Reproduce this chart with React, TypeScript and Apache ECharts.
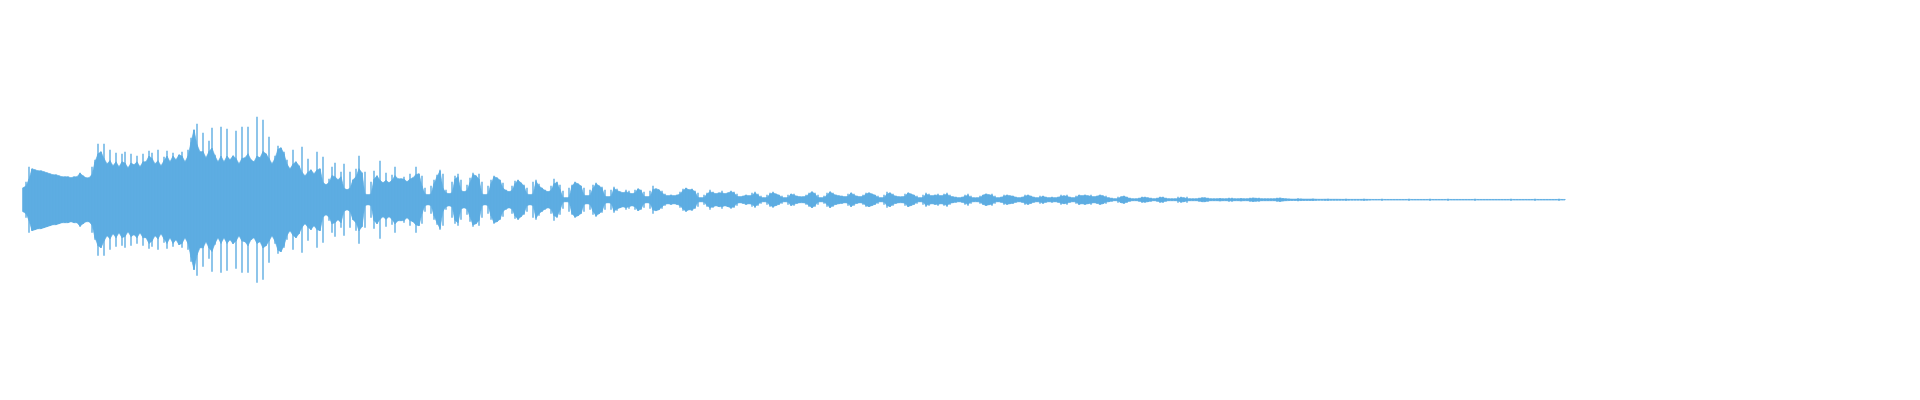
import React, { useEffect, useRef } from "react";
import * as echarts from "echarts";

// Waveform peak amplitudes, one value per sample step.
const attack = [12, 18, 33, 31, 30, 29, 29, 28, 27, 26, 25, 25, 24, 23, 23, 23, 22, 23, 23, 27, 24, 22, 22, 33, 40, 56];
const body = [48, 56, 36, 50, 34, 47, 33, 46, 48, 32, 46, 35, 44, 33, 46, 38, 49, 47, 36, 50, 34, 43, 49, 38, 47, 40, 45, 48, 38, 50];
const peak = [62, 70, 76, 48, 67, 42, 59, 72, 45, 38, 73, 38, 71, 40, 44, 69, 36, 73, 42, 73, 40, 38, 83, 42, 80, 46, 63, 36, 44, 54, 52, 48, 40, 31, 50, 38, 34, 53];
const decay = [24, 41, 30, 26, 48, 31, 43, 15, 21, 33, 37, 20, 28, 36, 10, 28, 20, 31, 44, 27, 28, 5, 18, 29, 24, 39, 17, 27, 17, 25, 33, 21, 21, 23, 18];
const lobes = [
  26, 22, 33, 26, 24, 12, 5, 14, 20, 25,
  30, 26, 10, 6, 18, 24, 26, 20, 8, 15,
  22, 27, 24, 26, 18, 5, 14, 20, 24, 22,
  20, 17, 10, 8, 14, 19, 20, 17, 15, 12,
  5, 18, 20, 16, 12, 10, 8, 14, 21, 18,
  15, 9, 2, 12, 15, 18, 16, 14, 12, 4,
  10, 15, 17, 14, 13, 10, 3, 10, 13, 11,
  8, 7, 10, 9, 6, 10, 11, 10, 8, 3,
  9, 14, 11, 10, 9, 6, 4, 5, 4, 5,
  8, 11, 12, 10, 11, 9, 7, 2, 5, 7,
  10, 8, 6, 7, 9, 6, 7, 9, 8, 6,
  3, 4, 5, 4,
];
const tail1 = [
  7, 8, 6, 4, 2, 5, 7, 8, 6, 5,
  4, 2, 5, 6, 6, 4, 3, 3, 5, 7,
  8, 7, 5, 2, 4, 7, 8, 7, 5, 4,
  4, 3, 6, 7, 6, 4, 3, 5, 7, 7,
  6, 5, 4, 2, 5, 8, 7, 6, 4, 3,
  3, 6, 7, 6, 5, 4, 2, 5, 7, 6,
  4, 5, 6, 4, 6, 7, 5, 3, 3, 2,
  3, 5, 6, 4, 2, 2, 4, 5, 6, 5,
  6, 4, 2, 3, 5, 5, 4, 4, 3, 2,
  3, 5, 5, 4, 3, 2, 4, 4, 3, 2,
];
const tail2 = [
  3, 2, 3, 5, 4, 5, 3, 2, 4, 5,
  4, 5, 4, 5, 3, 4, 5, 4, 4, 2,
  2, 1, 3, 3, 4, 3, 2, 1, 1, 2,
  3, 3, 2, 2, 1, 2, 3, 3, 2, 1,
  1, 1, 3, 3, 2, 3, 1, 1, 1, 2,
  2, 2, 2, 1, 1, 1, 1.5, 1, 1, 2,
  2, 1, 1, 1.5, 1, 1, 2, 2, 1.5, 2,
  1, 1, 1, 1, 1, 2, 2, 1.5, 1, 1,
  0.7, 0.7, 1.5, 1, 0.7,
];
const tail3 = [
  0.7, 0.7, 1, 0.7, 0.5, 0.5, 0.7, 1, 0.5, 0.5,
  0.5, 0.5, 0.4, 1, 0.4, 0.4, 0.4, 0.4, 0.4, 1,
  0.4, 0.4, 0.3, 0.3, 0.3, 1, 0.3, 0.3, 0.3, 0.3,
  0.3, 0.3, 0.3, 0.3, 1, 0.3, 0.3, 0.3, 0.3, 0.3,
  0.3, 1, 0.3, 0.3, 0.3, 0.3, 0.3, 1, 0.3, 0.3,
  0.3, 0.3, 0.3, 0.3, 0.3, 0.3, 1, 0.3, 0.3, 0.3,
  0.3, 0.3, 0.3, 0.3, 0.3, 0.3, 0.3, 0.3, 1, 0.3,
  0.3, 0.3, 0.3, 0.3, 0.3, 0.3, 1, 0.3, 0.3, 0.3,
  0.3, 0.3, 0.3, 0.3, 1, 0.3, 0.3,
];

const amplitudes = [...attack, ...body, ...peak, ...decay, ...lobes, ...tail1, ...tail2, ...tail3];
const COLOR = "#5DADE2";

export default function App() {
  const ref = useRef<HTMLDivElement>(null);
  useEffect(() => {
    if (!ref.current) return;
    const chart = echarts.init(ref.current, null, { renderer: "svg" });
    const n = amplitudes.length;
    // body level: a little above the lowest of each sample and its neighbours; stems carry the peaks
    const core = amplitudes.map((a, i) => {
      const m = Math.min(a, i > 0 ? amplitudes[i - 1] : a, i + 1 < n ? amplitudes[i + 1] : a);
      return Math.min(a, m * 1.15);
    });
    const items = amplitudes.map((a, i) => [i, a, core[i], i + 1 < n ? core[i + 1] : core[i]]);
    chart.setOption({
      animation: false,
      backgroundColor: "#ffffff",
      grid: { left: 23, top: -0.5, width: 1890, height: 400 },
      xAxis: { type: "value", min: 0, max: 630, show: false },
      yAxis: { type: "value", min: -200, max: 200, show: false },
      series: [
        {
          type: "custom",
          silent: true,
          data: items,
          encode: { x: 0, y: 1 },
          renderItem: (params: any, api: any) => {
            const i = api.value(0);
            const a = api.value(1);
            const c0 = api.value(2);
            const c1 = api.value(3);
            const top = api.coord([i, a]);
            const bottom = api.coord([i, -a]);
            const children: any[] = [];
            if (i < n - 1) {
              children.push({
                type: "polygon",
                shape: {
                  points: [
                    api.coord([i, c0]),
                    api.coord([i + 1, c1]),
                    api.coord([i + 1, -c1]),
                    api.coord([i, -c0]),
                  ],
                },
                style: { fill: COLOR, stroke: COLOR, lineWidth: 0.6 },
              });
            }
            children.push({
              type: "line",
              shape: { x1: top[0], y1: top[1], x2: bottom[0], y2: bottom[1] },
              style: { stroke: COLOR, lineWidth: 1.4 },
            });
            return { type: "group", children };
          },
        },
      ],
    });
    return () => chart.dispose();
  }, []);
  return (
    <div
      ref={ref}
      style={{ position: "fixed", left: 0, top: 0, width: 1920, height: 400, background: "#fff" }}
    />
  );
}
